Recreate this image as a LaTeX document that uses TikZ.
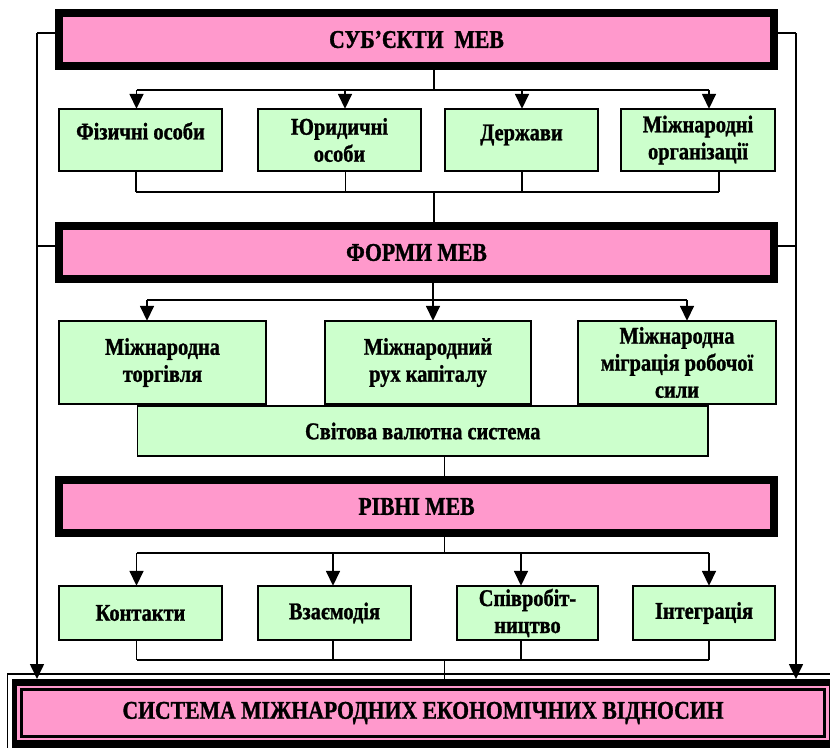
\documentclass[tikz,border=0pt]{standalone}
\usepackage{fontspec}
\setmainfont{Liberation Serif}[FakeStretch=0.85, BoldFeatures={FakeBold=1.2}]
\usetikzlibrary{arrows.meta}
\definecolor{hdrpink}{HTML}{FF99CC}
\definecolor{boxgreen}{HTML}{CCFFCC}
\newcommand{\lifted}[2]{\raisebox{#1}[\height][\depth]{#2}}

\begin{document}
\begin{tikzpicture}[x=1pt,y=-1pt,
  every node/.style={font=\bfseries\fontsize{24}{27}\selectfont, align=center, inner sep=0pt, outer sep=0pt},
  bigtext/.style={font=\bfseries\fontsize{25.5}{28}\selectfont},
  hdr/.style={draw=black, line width=8pt, fill=hdrpink, bigtext},
  gbox/.style={draw=black, line width=1.6pt, fill=boxgreen},
  link/.style={line width=1.6pt},
  arr/.style={link, -{Triangle[width=14pt,length=15pt]}}
]
\useasboundingbox (0,0) rectangle (830,747);
\clip (0,0) rectangle (830,747);

% header boxes
\node[hdr, minimum width=715pt, minimum height=53pt] (subj)   at (416.5,39.5)  {СУБ’ЄКТИ\ \ МЕВ};
\node[hdr, minimum width=715pt, minimum height=53pt] (forms)  at (416.5,252.5) {ФОРМИ МЕВ};
\node[hdr, minimum width=715pt, minimum height=53pt] (levels) at (416.5,506.5) {РІВНІ МЕВ};

% subjects
\node[gbox, minimum width=163.4pt, minimum height=62.4pt] (f1) at (140.5,140) {\lifted{9pt}{Фізичні особи}};
\node[gbox, minimum width=163.4pt, minimum height=62.4pt] (f2) at (339.5,140) {Юридичні\\особи};
\node[gbox, minimum width=153.4pt, minimum height=62.4pt] (f3) at (521.5,140) {\lifted{5pt}{Держави}};
\node[gbox, minimum width=154.4pt, minimum height=62.4pt] (f4) at (698,140)   {Міжнародні\\організації};

% forms
\node[gbox, minimum width=207.4pt, minimum height=83.4pt] (m1) at (162.5,362.5) {Міжнародна\\торгівля};
\node[gbox, minimum width=206.4pt, minimum height=83.4pt] (m2) at (428,362.5)   {Міжнародний\\рух капіталу};
\node[gbox, minimum width=198.4pt, minimum height=83.4pt] (m3) at (677,362.5)   {Міжнародна\\міграція робочої\\сили};
\node[gbox, minimum width=570.9pt, minimum height=50.4pt] (sv) at (422.75,431) {Світова валютна система};

% levels
\node[gbox, minimum width=163.4pt, minimum height=54.4pt] (r1) at (140.5,613) {Контакти};
\node[gbox, minimum width=153.4pt, minimum height=54.4pt] (r2) at (334.5,613) {Взаємодія};
\node[gbox, minimum width=141.4pt, minimum height=54.4pt] (r3) at (527.5,613) {Співробіт-\\ництво};
\node[gbox, minimum width=142.4pt, minimum height=54.4pt] (r4) at (704,613)   {Інтеграція};

% system frame: thin outer line, thick black band, pink band, inner box
\draw[line width=1.5pt, fill=white] (7.5,674) rectangle (900,800);
\fill[black] (11.5,679) rectangle (900,800);
\fill[hdrpink] (17,685.5) rectangle (829,740);
\node[draw=black, line width=2.6pt, fill=hdrpink, minimum width=803pt, minimum height=46.5pt, bigtext] (sys) at (423,713) {СИСТЕМА МІЖНАРОДНИХ ЕКОНОМІЧНИХ ВІДНОСИН};

% reference points
\coordinate (vA) at (434,0);
\coordinate (vB) at (444.5,0);
\coordinate (sysTop) at (0,679);
\coordinate (L1) at (37,33);   \coordinate (L2) at (37,246);
\coordinate (R1) at (796,33);  \coordinate (R2) at (796,246);

% subjects branch
\coordinate (a1) at (136.5,90); \coordinate (a2) at (345,90);
\coordinate (a3) at (522,90);   \coordinate (a4) at (709,90);
\draw[link] (subj.south -| vA) -- (a1 -| vA);
\draw[link] (a1) -- (a4);
\foreach \i in {1,...,4} \draw[arr] (a\i) -- (a\i |- f\i.north);
\coordinate (c1) at (136,192);  \coordinate (c2) at (345.5,192);
\coordinate (c3) at (522,192);  \coordinate (c4) at (719,192);
\foreach \i in {1,...,4} \draw[link] (f\i.south -| c\i) -- (c\i);
\draw[link] (c1) -- (c4);
\draw[link] (c1 -| vA) -- (forms.north -| vA);

% forms branch
\coordinate (b1) at (147,300); \coordinate (b2) at (433,300); \coordinate (b3) at (687,300);
\draw[link] (forms.south -| b2) -- (b2);
\draw[link] (b1) -- (b3);
\foreach \i in {1,...,3} \draw[arr] (b\i) -- (b\i |- m\i.north);
\draw[link] (sv.south -| vB) -- (levels.north -| vB);

% levels branch
\coordinate (d1) at (136.5,553); \coordinate (d2) at (333,553);
\coordinate (d3) at (521,553);   \coordinate (d4) at (709,553);
\draw[link] (levels.south -| vB) -- (d1 -| vB);
\draw[link] (d1) -- (d4);
\foreach \i in {1,...,4} \draw[arr] (d\i) -- (d\i |- r\i.north);
\coordinate (e1) at (136.5,660); \coordinate (e2) at (333,660);
\coordinate (e3) at (521,660);   \coordinate (e4) at (709,660);
\foreach \i in {1,...,4} \draw[link] (r\i.south -| e\i) -- (e\i);
\draw[link] (e1) -- (e4);
\draw[link] (e1 -| vB) -- (vB |- sysTop);

% side lines into the system box
\draw[link] (L1 -| subj.west) -- (L1);
\draw[link] (R1 -| subj.east) -- (R1);
\draw[link] (L2) -- (L2 -| forms.west);
\draw[link] (R2) -- (R2 -| forms.east);
\draw[arr] (L1) -- (L1 |- sysTop);
\draw[arr] (R1) -- (R1 |- sysTop);
\end{tikzpicture}
\end{document}
